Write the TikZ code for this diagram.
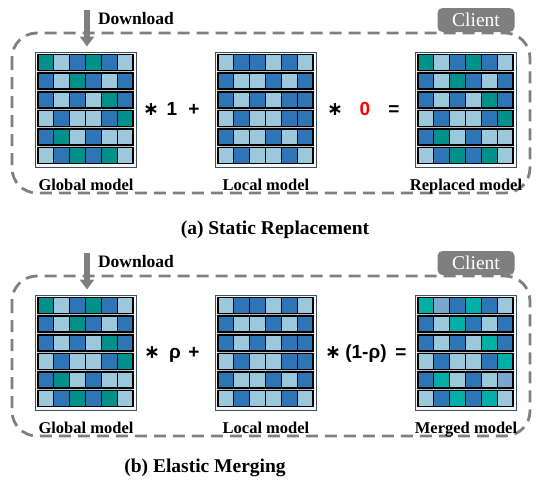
\documentclass[tikz,border=0pt]{standalone}
\usepackage{fontspec}
\setmainfont{Liberation Serif}
\newfontfamily\opfont{Liberation Sans}
\newfontfamily\astfont{DejaVu Sans}
\usepackage{xcolor}
\usetikzlibrary{arrows.meta, positioning}

\definecolor{mT}{HTML}{00918C}
\definecolor{mB}{HTML}{2E75B6}
\definecolor{mL}{HTML}{9CC8DC}
\definecolor{mS}{HTML}{00AFA5}
\definecolor{mM}{HTML}{7BA6CD}
\definecolor{boxgray}{HTML}{7F7F7F}
\definecolor{framecol}{HTML}{3A5363}

\newcommand{\opstar}{{\astfont\bfseries ∗}}

% one model: frame node + 6x6 cells, rows given as {a,b,...},{...}
\newcommand{\modelgrid}[3]{%
  \node[frame] (#1) at (#2) {};
  \begin{scope}[shift={(#1.north west)}]
    \fill[gray!50] (3,3) rectangle (98,112);
    \foreach \cells [count=\r] in {#3} {
      \foreach \c [count=\k] in \cells {
        \draw[cell, fill=m\c] ({3+(\k-1)*15.833},{3+(\r-1)*18.6}) rectangle ++(15.833,16);
      }
      \draw[rowline] (3,{3+(\r-1)*18.6}) rectangle ++(95,16);
    }
  \end{scope}
}

\begin{document}
\begin{tikzpicture}[
    x=1pt, y=-1pt,
    clientbox/.style={draw=boxgray, line width=2.8pt, dash pattern=on 12pt off 7pt, rounded corners=25pt},
    tab/.style={fill=boxgray, text=white, rounded corners=5pt, minimum width=77pt, minimum height=24pt, inner sep=0pt, font=\fontsize{19.5}{19.5}\selectfont},
    dl/.style={-{Triangle[width=14pt,length=10pt]}, draw=boxgray, line width=5.5pt, shorten >=5pt},
    dltext/.style={font=\fontsize{17.5}{17.5}\selectfont\bfseries},
    frame/.style={draw=framecol, line width=1pt, fill=gray!8, minimum width=101pt, minimum height=115pt, inner sep=0pt},
    cell/.style={draw=black, line width=1pt},
    rowline/.style={draw=black, line width=1.6pt},
    lbl/.style={font=\fontsize{16.5}{16.5}\selectfont\bfseries, inner sep=0pt},
    op/.style={font=\opfont\fontsize{19}{19}\selectfont\bfseries, anchor=base, inner sep=0pt},
    caption/.style={font=\fontsize{19.5}{19.5}\selectfont\bfseries},
]
\useasboundingbox (0,0) rectangle (541,485);

% (a) static replacement
\draw[clientbox] (12,33) rectangle (530,193);
\node[tab] (clientA) at (476,20) {Client};

\modelgrid{globalA}{86,109.5}{{T,L,B,T,B,L},{B,L,T,B,L,B},{B,L,B,L,T,B},{L,B,L,L,B,T},{B,T,L,B,L,L},{L,B,T,B,T,L}}
\modelgrid{localA}{266,109.5}{{L,B,B,L,B,L},{B,L,L,B,L,B},{B,L,B,L,B,B},{L,B,L,L,B,B},{B,L,L,B,L,B},{L,B,L,L,B,L}}
\modelgrid{replacedA}{466,109.5}{{T,L,B,T,B,L},{B,L,T,B,L,B},{B,L,B,L,T,B},{L,B,L,L,B,T},{B,T,L,B,L,L},{L,B,T,B,T,L}}

\coordinate (dlA) at (87,10);
\draw[dl] (dlA) -- (dlA |- globalA.north);
\node[dltext] (dlAtext) at (136,19) {Download};

\node[lbl, below=11pt of globalA] (globalAl) {Global model};
\node[lbl, below=11pt of localA] (localAl) {Local model};
\node[lbl, below=11pt of replacedA] (replacedAl) {Replaced model};

\node[op] (mulA1) at (151,115) {\opstar};
\node[op] (oneA) at (172,115) {1};
\node[op] (plusA) at (194,115) {+};
\node[op] (mulA2) at (335,115) {\opstar};
\node[op, text=red] (zeroA) at (365,115) {0};
\node[op] (eqA) at (394,115) {=};

\node[caption] (capA) at (275,230) {(a) Static Replacement};

% (b) elastic merging
\draw[clientbox] (12,276) rectangle (530,436);
\node[tab] (clientB) at (476,263) {Client};

\modelgrid{globalB}{86,352.5}{{T,L,B,T,B,L},{B,L,T,B,L,B},{B,L,B,L,T,B},{L,B,L,L,B,T},{B,T,L,B,L,L},{L,B,T,B,T,L}}
\modelgrid{localB}{266,352.5}{{L,B,B,L,B,L},{B,L,L,B,L,B},{B,L,B,L,B,B},{L,B,L,L,B,B},{B,L,L,B,L,B},{L,B,L,L,B,L}}
\modelgrid{mergedB}{466,352.5}{{S,M,B,S,B,L},{B,L,S,B,L,B},{B,L,B,L,S,B},{L,B,L,L,B,S},{B,S,L,B,L,M},{L,B,S,B,S,L}}

\coordinate (dlB) at (87,253);
\draw[dl] (dlB) -- (dlB |- globalB.north);
\node[dltext] (dlBtext) at (136,262) {Download};

\node[lbl, below=11pt of globalB] (globalBl) {Global model};
\node[lbl, below=11pt of localB] (localBl) {Local model};
\node[lbl, below=11pt of mergedB] (mergedBl) {Merged model};

\node[op] (mulB1) at (152,358) {\opstar};
\node[op] (rhoB) at (175,358) {ρ};
\node[op] (plusB) at (194,358) {+};
\node[op] (mulB2) at (333,358) {\opstar};
\node[op] (oneminusB) at (366,358) {(1-ρ)};
\node[op] (eqB) at (401,358) {=};

\node[caption] (capB) at (205,468) {(b) Elastic Merging};

\end{tikzpicture}
\end{document}
